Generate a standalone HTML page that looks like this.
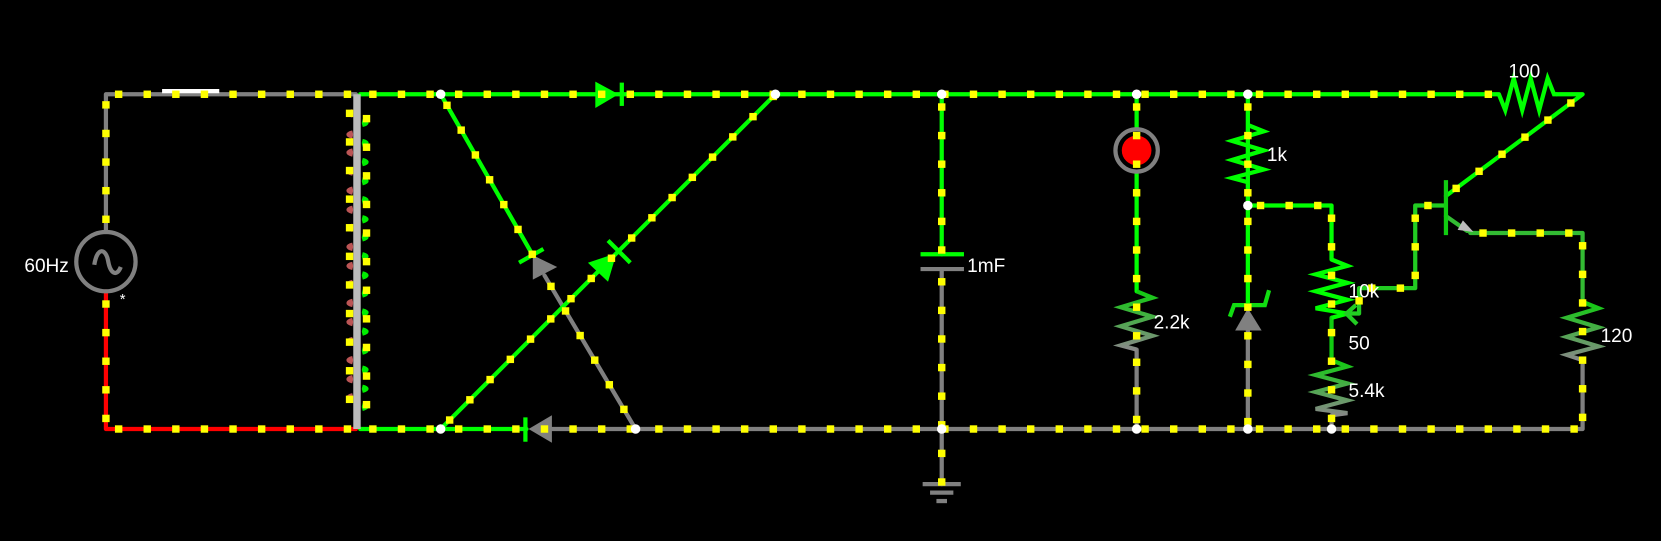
<!DOCTYPE html>
<html><head><meta charset="utf-8"><style>
html,body{margin:0;padding:0;background:#000;width:1661px;height:541px;overflow:hidden}
svg{display:block}
text{font-family:"Liberation Sans",sans-serif;font-size:18px;fill:#fff}
</style></head><body>
<svg id="c" width="1661" height="541" viewBox="0 0 1661 541">
<defs>
<linearGradient id="gg" x1="0" y1="0" x2="0" y2="1"><stop offset="0" stop-color="#1c1"/><stop offset="1" stop-color="#888"/></linearGradient>
</defs>
<g transform="scale(1.0593)">
<g id="wires" stroke-width="4" fill="none" stroke-linecap="round" stroke-linejoin="round">
 <path d="M100 219 V89 H336" stroke="#808080"/>
 <path d="M100 275 V405 H336" stroke="#f00"/>
 <path d="M340 89 H1415" stroke="#0f0"/>
 <path d="M340 405 H497" stroke="#0f0"/>
 <path d="M510 405 H1494 V340" stroke="#808080"/>
 <path d="M416 89 L503 241" stroke="#0f0"/>
 <path d="M514 260 L600 405" stroke="#808080"/>
 <path d="M416 405 L732 89" stroke="#0f0"/>
 <path d="M889 89 V240" stroke="#0f0"/>
 <path d="M889 254 V457" stroke="#808080"/>
 <path d="M1073 89 V122 M1073 162 V275" stroke="#0f0"/>
 <path d="M1073 330 V405" stroke="#808080"/>
 <path d="M1178 89 V288 M1178 194 H1257 V245" stroke="#0f0"/>
 <path d="M1178 300 V405" stroke="#808080"/>
 <path d="M1257 300 V340" stroke="#1c1"/>
 <path d="M1257 392 V405" stroke="#808080"/>
 <path d="M1283 296 V272 H1336 V194 H1365" stroke="#2c2"/>
 <path d="M1365 185 L1494 89 H1470" stroke="#0f0"/>
 <path d="M1365 204 L1385 218 M1388 220 H1494 V285" stroke="#3b3"/>
</g>
<g fill="none" stroke-width="4">
 <circle cx="100" cy="247" r="28" stroke="#808080"/>
 <path d="M89 250 C92 232 100 235 102 246 C104 258 110 262 114 252" stroke="#808080"/>
 <line x1="153" y1="86" x2="207" y2="86" stroke="#fff"/>
 <line x1="337" y1="89" x2="337" y2="405" stroke="#bbb" stroke-width="7"/>
 <path d="M333 105 q-8 2 0 4 M333 125 q-8 2 0 4 M333 142 q-8 2 0 4 M333 160 q-8 2 0 4 M333 178 q-8 2 0 4 M333 196 q-8 2 0 4 M333 213 q-8 2 0 4 M333 231 q-8 2 0 4 M333 249 q-8 2 0 4 M333 266 q-8 2 0 4 M333 284 q-8 2 0 4 M333 302 q-8 2 0 4 M333 320 q-8 2 0 4 M333 338 q-8 2 0 4 M333 356 q-8 2 0 4 M333 373 q-8 2 0 4" stroke="#b55"/>
 <path d="M342 114 q8 2 0 4 M342 133 q8 2 0 4 M342 151 q8 2 0 4 M342 169 q8 2 0 4 M342 187 q8 2 0 4 M342 205 q8 2 0 4 M342 222 q8 2 0 4 M342 240 q8 2 0 4 M342 258 q8 2 0 4 M342 275 q8 2 0 4 M342 293 q8 2 0 4 M342 311 q8 2 0 4 M342 329 q8 2 0 4 M342 347 q8 2 0 4 M342 365 q8 2 0 4 M342 382 q8 2 0 4" stroke="#0e0"/>
 <g><polygon points="562,77 584,89 562,102" fill="#0f0" stroke="none"/><line x1="587" y1="78" x2="587" y2="100" stroke="#0f0"/></g>
 <g><polygon points="521,392 499,405 521,418" fill="#808080" stroke="none"/><line x1="496" y1="394" x2="496" y2="417" stroke="#0f0"/></g>
 <g><line x1="490" y1="248" x2="513" y2="235" stroke="#0f0"/><polygon points="503,241 526,252 503,264" fill="#808080" stroke="none"/></g>
 <g><polygon points="555,248 582,239 574,266" fill="#0f0" stroke="none"/><line x1="574" y1="227" x2="595" y2="248" stroke="#0f0"/></g>
 <g><line x1="869" y1="240" x2="910" y2="240" stroke="#0f0"/><line x1="869" y1="254" x2="910" y2="254" stroke="#808080"/></g>
 <g stroke="#808080"><line x1="871" y1="457" x2="907" y2="457"/><line x1="878" y1="465" x2="900" y2="465"/><line x1="884" y1="473" x2="894" y2="473"/></g>
 <g><circle cx="1073" cy="142" r="20" stroke="#808080"/><circle cx="1073" cy="142" r="14" fill="#f00" stroke="none"/></g>
 <polyline points="1073,275 1088,281 1058,290 1088,299 1058,308 1088,317 1058,326 1073,330" stroke="url(#gg)"/>
 <polyline points="1178,118 1193,124 1163,133 1193,142 1163,151 1193,160 1163,168 1178,172" stroke="#0f0"/>
 <g><polyline points="1161,299 1165,288 1194,288 1198,274" stroke="#1d1"/><polygon points="1166,312 1178,291 1191,312" fill="#808080" stroke="none"/></g>
 <polyline points="1257,245 1272,251 1242,259 1272,267 1242,275 1272,283 1242,291 1272,296 1257,300" stroke="#0f0"/>
 <path d="M1272 296 H1283 M1280 288 L1271 296 L1281 306" stroke="#2c2"/>
 <polyline points="1257,340 1272,346 1242,354 1272,362 1242,370 1272,378 1242,386 1272,390 1257,392" stroke="url(#gg)"/>
 <g><line x1="1365" y1="170" x2="1365" y2="222" stroke="#1c1"/><polygon points="1376,217 1391,219 1381,208" fill="#bbb" stroke="none"/></g>
 <polyline points="1494,285 1509,291 1479,300 1509,309 1479,318 1509,327 1479,335 1494,340" stroke="url(#gg)"/>
 <polyline points="1415,89 1421,104 1429,74 1437,104 1445,74 1453,104 1461,74 1467,89 1470,89" stroke="#0f0"/>
</g>
<g id="dots" fill="#ff0"></g>
<g id="nodes" fill="#fff"></g>
<g>
 <text x="23" y="257">60Hz</text>
 <text x="113" y="287" style="font-size:14px">*</text>
 <text x="913" y="257">1mF</text>
 <text x="1089" y="310">2.2k</text>
 <text x="1196" y="152">1k</text>
 <text x="1273" y="281">10k</text>
 <text x="1273" y="330">50</text>
 <text x="1273" y="375">5.4k</text>
 <text x="1511" y="323">120</text>
 <text x="1424" y="73">100</text>
</g>
</g>
</svg>
<script>
const NS='http://www.w3.org/2000/svg';
const nodePts=[[416,89],[732,89],[889,89],[1073,89],[1178,89],[416,405],[600,405],[889,405],[1073,405],[1178,405],[1257,405],[1178,194]];
const segs=[[100,219,100,89],[100,89,336,89],[100,275,100,405],[100,405,336,405],[330,95,330,395],[346,100,346,400],
[340,89,1415,89],[340,405,1494,405],[416,89,503,241],[514,260,600,405],[416,405,732,89],
[889,89,889,240],[889,254,889,457],[1073,89,1073,330],[1073,330,1073,405],[1178,89,1178,405],[1178,194,1257,194],[1257,194,1257,405],
[1283,296,1283,272],[1283,272,1336,272],[1336,272,1336,194],[1336,194,1365,194],[1365,185,1494,89],[1388,220,1494,220],[1494,220,1494,405]];
const dg=document.getElementById('dots');
segs.forEach(s=>{const dx=s[2]-s[0],dy=s[3]-s[1],L=Math.hypot(dx,dy);for(let t=12;t<L;t+=27){const r=document.createElementNS(NS,'rect');


r.setAttribute('x',s[0]+dx*t/L-3.5);r.setAttribute('y',s[1]+dy*t/L-3.5);r.setAttribute('width',7);r.setAttribute('height',7);dg.appendChild(r);}});
const ng=document.getElementById('nodes');
nodePts.forEach(p=>{const c=document.createElementNS(NS,'circle');


c.setAttribute('cx',p[0]);c.setAttribute('cy',p[1]);c.setAttribute('r',4.5);ng.appendChild(c);});
</script>
</body></html>
